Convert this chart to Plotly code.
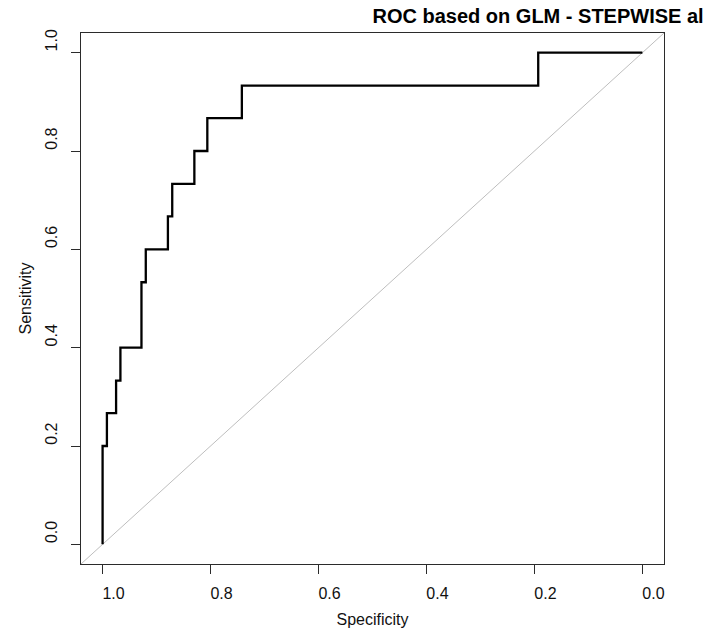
import plotly.graph_objects as go

# ROC curve corner points (specificity, sensitivity)
specificity = [1.0, 1.0, 0.992, 0.975, 0.967, 0.928, 0.920, 0.879, 0.871, 0.830, 0.806, 0.742, 0.193, 0.0]
sensitivity = [0.0, 0.2, 0.267, 0.333, 0.4, 0.533, 0.6, 0.667, 0.733, 0.8, 0.867, 0.933, 1.0, 1.0]

tick_values = [0.0, 0.2, 0.4, 0.6, 0.8, 1.0]
tick_labels = ["0.0", "0.2", "0.4", "0.6", "0.8", "1.0"]

x_range = [1.04, -0.04]
y_range = [-0.04, 1.04]

FONT = "Liberation Sans, Arial, sans-serif"
AXIS_COLOR = "#2b2b2b"

fig = go.Figure()

# chance diagonal: sensitivity = 1 - specificity across the whole panel
diag_x = [x_range[0], x_range[1]]
diag_y = [1 - v for v in diag_x]
fig.add_trace(go.Scatter(
    x=diag_x, y=diag_y, mode="lines",
    line=dict(color="#bebebe", width=1),
    hoverinfo="skip", showlegend=False,
))

fig.add_trace(go.Scatter(
    x=specificity, y=sensitivity, mode="lines",
    line=dict(color="black", width=2.3, shape="hv"),
    showlegend=False,
))

axis_common = dict(
    showgrid=False, zeroline=False,
    showline=True, mirror=True, linecolor=AXIS_COLOR, linewidth=1,
    ticks="outside", ticklen=9, tickwidth=1, tickcolor=AXIS_COLOR,
    tickvals=tick_values, ticktext=tick_labels,
    tickfont=dict(family=FONT, size=16, color="#111"),
)

fig.update_xaxes(
    range=x_range, **axis_common,
    ticklabelshift=-11, ticklabelstandoff=6,
    title=dict(text="Specificity", font=dict(family=FONT, size=16, color="#111"), standoff=12),
)
fig.update_yaxes(
    range=y_range, **axis_common,
    tickangle=-90, ticklabelshift=-10, ticklabelstandoff=8,
    title=dict(text="Sensitivity", font=dict(family=FONT, size=16, color="#111"), standoff=6),
)

fig.update_layout(
    width=709, height=632,
    margin=dict(l=81, r=45, t=33, b=68, autoexpand=False),
    paper_bgcolor="white", plot_bgcolor="white",
    title=dict(
        text="<b>ROC based on GLM - STEPWISE al</b>",
        font=dict(family=FONT, size=20, color="black"),
        xref="paper", x=0.5, xanchor="left",
        yref="container", y=1 - 16 / 632, yanchor="middle",
    ),
)

fig.write_html("out.html")
